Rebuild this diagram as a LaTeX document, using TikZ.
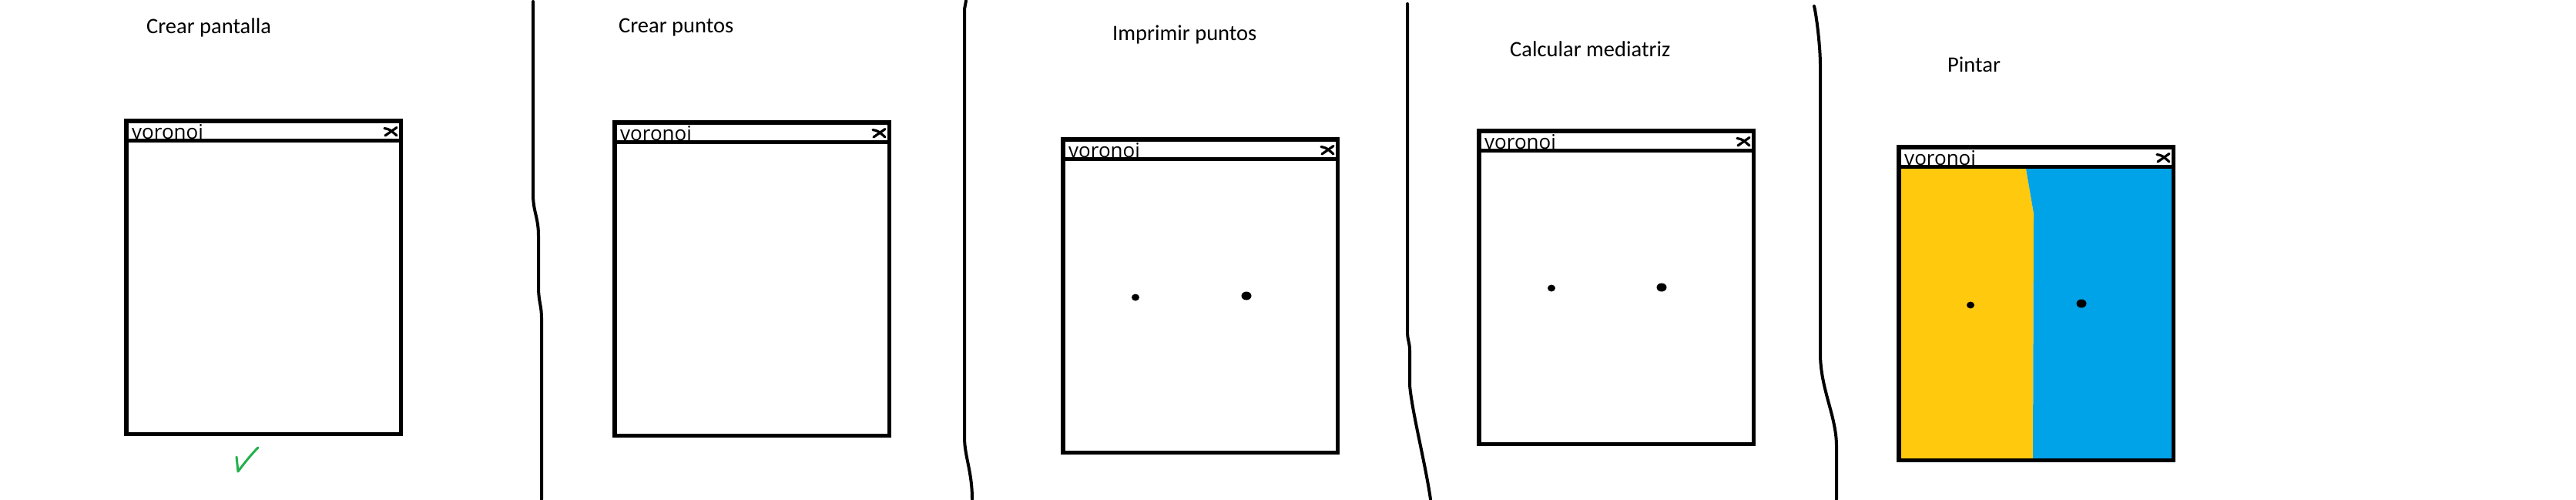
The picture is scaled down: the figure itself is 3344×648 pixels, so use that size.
\documentclass[tikz,border=0pt]{standalone}
\usepackage{fontspec}
\setmainfont{Carlito}
\newfontfamily\winfont{Open Sans}
\definecolor{paintgold}{HTML}{FFC90E}
\definecolor{paintblue}{HTML}{00A2E8}
\definecolor{paintgreen}{HTML}{22B14C}
\tikzset{
  winbox/.style={draw=black, line width=5.5pt, minimum width=356.5pt, minimum height=406.5pt, inner sep=0pt, outer sep=0pt, anchor=north west},
  stepname/.style={inner sep=0pt, anchor=base west, font=\fontsize{28.5}{34}\selectfont},
  wintitle/.style={inner sep=0pt, anchor=base west, font=\winfont\fontsize{26}{30}\selectfont},
  divider/.style={draw=black, line width=4pt, line cap=round, line join=round},
  closex/.style={draw=black, line width=3.2pt, line cap=round},
  sepline/.style={draw=black, line width=5.5pt},
  pointdot/.style={fill=black}
}
\newcommand\voronoiwin[3]{%
  \node[winbox] (#1) at (#2+2.75,#3+2.75) {};
  \node[wintitle] (#1title) at (#2+10,#3+26) {voronoi};
  \draw[sepline] (#2,#3+28.5) -- (#2+362,#3+28.5);
  \draw[closex] (#2+338,#3+12.5) .. controls (#2+345,#3+14) .. (#2+354,#3+22);
  \draw[closex] (#2+339,#3+22) -- (#2+354,#3+11.5);
}
\begin{document}
\begin{tikzpicture}[x=1pt,y=-1pt]
\useasboundingbox (0,0) rectangle (3344,648);
\fill[white] (0,0) rectangle (3344,648);

% step labels
\node[stepname] (l1) at (190,43) {Crear pantalla};
\node[stepname] (l2) at (803,42) {Crear puntos};
\node[stepname] (l3) at (1444,52) {Imprimir puntos};
\node[stepname] (l4) at (1960,73) {Calcular mediatriz};
\node[stepname] (l5) at (2528,93) {Pintar};

% dividers
\draw[divider] (692,2) -- (692,252) .. controls (692,275) and (699,282) .. (699,306) -- (699,372) .. controls (699,392) and (703,396) .. (703,413) -- (703,648);
\draw[divider] (1254,1) -- (1252,12) -- (1252,568) .. controls (1252,592) and (1262,612) .. (1262,648);
\draw[divider] (1827,5) -- (1827,430) .. controls (1827,442) and (1830,444) .. (1830,455) -- (1830,500) .. controls (1833,535) and (1850,600) .. (1857,648);
\draw[divider] (2355,8) .. controls (2358,20) and (2363,60) .. (2363,85) -- (2363,459) .. controls (2363,505) and (2384,540) .. (2384,579) -- (2384,648);

% window 5 fills
\fill[paintgold] (2466,219) -- (2630,219) -- (2640,277) -- (2639,595) -- (2466,595) -- cycle;
\fill[paintblue] (2630,219) -- (2820,219) -- (2820,595) -- (2639,595) -- (2640,277) -- cycle;

% windows
\voronoiwin{w1}{161}{154}
\voronoiwin{w2}{795}{156}
\voronoiwin{w3}{1377}{178}
\voronoiwin{w4}{1917}{167}
\voronoiwin{w5}{2462}{188}

% points
\fill[pointdot] (1474,386) ellipse (5pt and 4.5pt);
\fill[pointdot] (1618,384) ellipse (6.5pt and 5.5pt);
\fill[pointdot] (2014,374) ellipse (5pt and 4.5pt);
\fill[pointdot] (2157,373) ellipse (6.5pt and 5.5pt);
\fill[pointdot] (2558,396) ellipse (5pt and 4.5pt);
\fill[pointdot] (2702,394) ellipse (6.5pt and 5.5pt);

% check mark
\draw[paintgreen, line width=3pt, line cap=round, line join=round] (307,593) -- (309,612) .. controls (318,600) and (326,590) .. (335,581);
\end{tikzpicture}
\end{document}
